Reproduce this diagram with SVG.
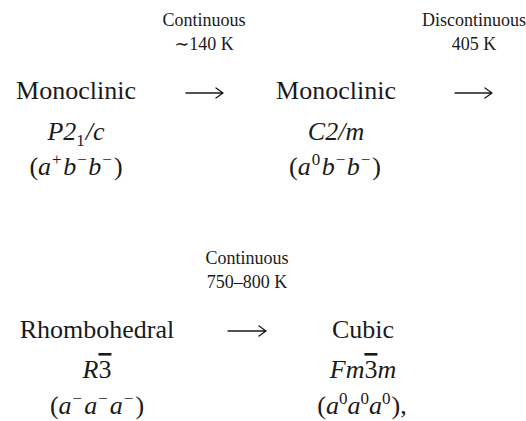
<svg xmlns="http://www.w3.org/2000/svg" width="526" height="421" viewBox="0 0 526 421" font-family="'Liberation Serif', 'Times New Roman', 'DejaVu Serif', serif">
<style>
text{fill:#1a1a1a;text-anchor:middle}
.big{font-size:26px}
.it{font-style:italic}
.lbl{font-size:18px}
.sup{font-size:17px}
.arrow{fill:none;stroke:#1a1a1a;stroke-width:1.3;stroke-linecap:round;stroke-linejoin:round}
</style>
<rect width="526" height="421" fill="#fff"/>
<g id="node-monoclinic-p21c">
<text class="big" x="76" y="99">Monoclinic</text>
<text class="big it" x="76" y="140">P2<tspan class="sup" font-style="normal" dy="6">1</tspan><tspan dx="1" dy="-6">/c</tspan></text>
<text class="big" x="76" y="175">(<tspan class="it">a</tspan><tspan class="sup" dx="1" dy="-10">+</tspan><tspan class="it" dx="1.5" dy="10">b</tspan><tspan class="sup" dx="1" dy="-10">−</tspan><tspan class="it" dx="1.5" dy="10">b</tspan><tspan class="sup" dx="1" dy="-10">−</tspan><tspan dx="2" dy="10">)</tspan></text>
</g>
<g id="node-monoclinic-c2m">
<text class="big" x="336" y="99">Monoclinic</text>
<text class="big it" x="336" y="140">C2/m</text>
<text class="big" x="335" y="175">(<tspan class="it">a</tspan><tspan class="sup" dx="1" dy="-10">0</tspan><tspan class="it" dx="1.5" dy="10">b</tspan><tspan class="sup" dx="1" dy="-10">−</tspan><tspan class="it" dx="1.5" dy="10">b</tspan><tspan class="sup" dx="1" dy="-10">−</tspan><tspan dx="2" dy="10">)</tspan></text>
</g>
<g id="node-rhombohedral">
<text class="big" x="97" y="338">Rhombohedral</text>
<text class="big it" x="97" y="378">R<tspan font-style="normal" text-decoration="overline">3</tspan></text>
<text class="big" x="97" y="414">(<tspan class="it">a</tspan><tspan class="sup" dx="1" dy="-10">−</tspan><tspan class="it" dx="2" dy="10">a</tspan><tspan class="sup" dx="1" dy="-10">−</tspan><tspan class="it" dx="2" dy="10">a</tspan><tspan class="sup" dx="1" dy="-10">−</tspan><tspan dx="2" dy="10">)</tspan></text>
</g>
<g id="node-cubic">
<text class="big" x="363" y="338">Cubic</text>
<text class="big it" x="363" y="378">Fm<tspan font-style="normal" text-decoration="overline">3</tspan>m</text>
<text class="big" x="362" y="414">(<tspan class="it">a</tspan><tspan class="sup" dy="-10">0</tspan><tspan class="it" dy="10">a</tspan><tspan class="sup" dy="-10">0</tspan><tspan class="it" dy="10">a</tspan><tspan class="sup" dy="-10">0</tspan><tspan dx="1" dy="10">),</tspan></text>
</g>
<g id="connectors">
<path class="arrow" d="M186 93H223M216 88L223 93L216 98"/>
<text class="lbl" x="204" y="26">Continuous</text>
<text class="lbl" x="204" y="50">∼140 K</text>
<path class="arrow" d="M455 93H492M485 88L492 93L485 98"/>
<text class="lbl" x="474" y="26">Discontinuous</text>
<text class="lbl" x="474" y="50">405 K</text>
<path class="arrow" d="M228 331H266M259 326L266 331L259 336"/>
<text class="lbl" x="247" y="264">Continuous</text>
<text class="lbl" x="247" y="288">750–800 K</text>
</g>
</svg>
